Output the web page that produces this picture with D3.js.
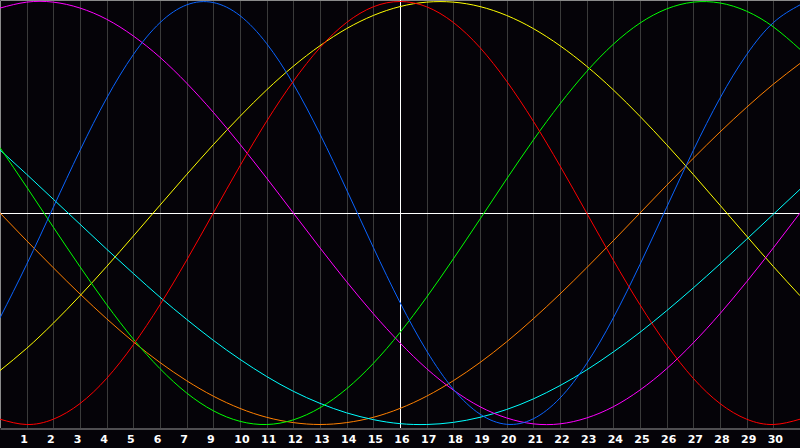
<!DOCTYPE html>
<html>
<head>
<meta charset="utf-8">
<script src="https://cdn.jsdelivr.net/npm/d3@7"></script>
<style>
  body { margin: 0; background: #050308; }
  svg { display: block; }
  .axis text { fill: #fff; font-family: "DejaVu Sans", sans-serif; font-weight: bold; font-size: 11px; }
</style>
</head>
<body>
<script>
// day index 0..30 along the x axis
var days = d3.range(0, 31);

// labels under the grid lines (day 8 is not shown in the original)
var dayLabels = ["1","2","3","4","5","6","7","9","10","11","12","13","14","15","16",
                 "17","18","19","20","21","22","23","24","25","26","27","28","29","30"];

// curve values in percent, one per day
var red = [-97.5,-100,-97.5,-90.1,-78.2,-62.3,-43.4,-22.3,0,22.3,43.4,62.3,78.2,90.1,97.5,100,
           97.5,90.1,78.2,62.3,43.4,22.3,0,-22.3,-43.4,-62.3,-78.2,-90.1,-97.5,-100,-97.5];
var blue = [-49.6,-24.3,2.7,29.6,54.3,74.9,90.0,98.4,99.5,93.3,80.1,61.0,37.3,10.9,-16.3,-42.3,
            -65.2,-83.3,-95.1,-99.9,-97.3,-87.5,-71.2,-49.6,-24.3,2.7,29.6,54.3,74.9,90.0,98.4];
var magenta = [96.9,99.7,99.7,96.9,91.6,83.7,73.6,61.4,47.6,32.5,16.5,0,-16.5,-32.5,-47.6,-61.4,
               -73.6,-83.7,-91.6,-96.9,-99.7,-99.7,-96.9,-91.6,-83.7,-73.6,-61.4,-47.6,-32.5,-16.5,0];
var green = [30.9,12.3,-6.7,-25.4,-43.3,-59.6,-73.6,-85.1,-93.5,-98.5,-100,-97.8,-92.1,-83.1,-71.1,-56.5,
             -39.8,-21.7,-2.9,16.1,34.5,51.6,66.9,79.8,89.8,96.5,99.7,99.3,95.4,88.0,77.4];
var cyan = [29.8,18.3,6.5,-5.3,-17.1,-28.6,-39.8,-50.3,-60.2,-69.2,-77.3,-84.3,-90.0,-94.5,-97.7,-99.6,
            -100,-99.0,-96.6,-92.9,-87.9,-81.6,-74.2,-65.7,-56.4,-46.2,-35.4,-24.1,-12.4,-0.6,11.2];
var yellow = [-74.5,-64.0,-52.1,-39.1,-25.3,-10.9,3.7,18.2,32.3,45.7,58.2,69.4,79.1,87.2,93.4,97.6,
              99.7,99.7,97.6,93.4,87.2,79.1,69.4,58.2,45.7,32.3,18.2,3.7,-10.9,-25.3,-39.1];
var orange = [0,-13.1,-25.9,-38.3,-50.0,-60.9,-70.7,-79.3,-86.6,-92.4,-96.6,-99.1,-100,-99.1,-96.6,-92.4,
              -86.6,-79.3,-70.7,-60.9,-50.0,-38.3,-25.9,-13.1,0,13.1,25.9,38.3,50.0,60.9,70.7];

var series = [
  {values: orange, color: "#ff8000"},
  {values: cyan, color: "#00ffff"},
  {values: yellow, color: "#ffff00"},
  {values: magenta, color: "#ff00ff"},
  {values: green, color: "#00ff00"},
  {values: blue, color: "#0a64ff"},
  {values: red, color: "#ff0000"}
];

var width = 800, height = 448;

var x = d3.scaleLinear().domain([0, 30]).range([0, 800]);
var y = d3.scaleLinear().domain([-100, 100]).range([424.5, 1.5]);

var svg = d3.select("body").append("svg")
    .attr("width", width)
    .attr("height", height);

svg.append("rect")
    .attr("width", width)
    .attr("height", height)
    .attr("fill", "#050308");

// vertical day grid
svg.append("g")
    .selectAll("line")
    .data(d3.range(1, 30))
    .enter().append("line")
      .attr("x1", function(d) { return Math.round(x(d)) + 0.5; })
      .attr("x2", function(d) { return Math.round(x(d)) + 0.5; })
      .attr("y1", 0)
      .attr("y2", 428)
      .attr("stroke", "#3a3a3a");

// frame on the left and top
svg.append("path")
    .attr("d", "M0.5,428V0.5H800")
    .attr("fill", "none")
    .attr("stroke", "#8a8a8a");

// middle line and today line
svg.append("line")
    .attr("x1", 0).attr("x2", 800)
    .attr("y1", Math.round(y(0)) + 0.5).attr("y2", Math.round(y(0)) + 0.5)
    .attr("stroke", "#fff");
svg.append("line")
    .attr("x1", x(15) + 0.5).attr("x2", x(15) + 0.5)
    .attr("y1", 0).attr("y2", 428)
    .attr("stroke", "#fff");

var line = d3.line()
    .x(function(d, i) { return x(days[i]); })
    .y(function(d) { return y(d); })
    .curve(d3.curveNatural);

svg.append("g")
    .selectAll("path")
    .data(series)
    .enter().append("path")
      .attr("d", function(s) { return line(s.values); })
      .attr("fill", "none")
      .attr("stroke", function(s) { return s.color; })
      .attr("stroke-width", 1);

// day axis
var axis = svg.append("g")
    .attr("class", "axis")
    .attr("transform", "translate(0,428.5)")
    .call(d3.axisBottom(x)
      .tickValues(d3.range(1, 30))
      .tickFormat(function(d) { return dayLabels[d - 1]; })
      .tickSize(0)
      .tickPadding(7));

axis.select(".domain").attr("stroke", "#9a9a9a");
axis.selectAll("text")
    .attr("dx", function() { return this.textContent.length == 1 ? -3 : 1.5; });
</script>
</body>
</html>
